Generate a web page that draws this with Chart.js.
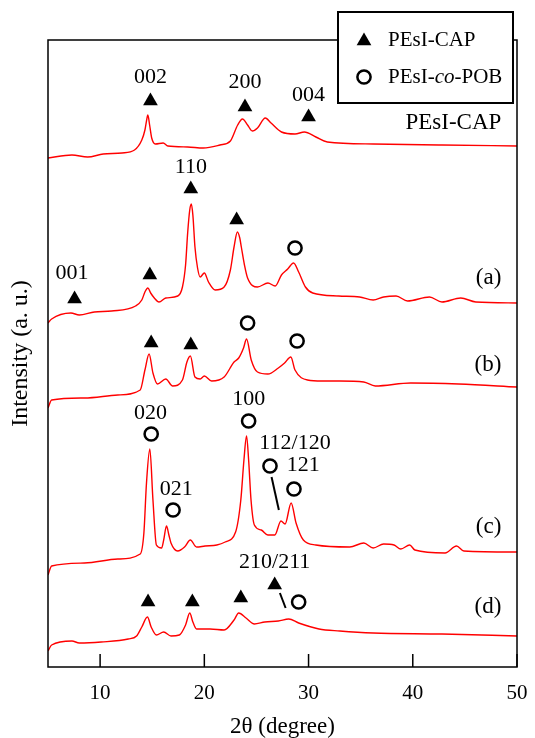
<!DOCTYPE html>
<html><head><meta charset="utf-8">
<script src="https://cdn.jsdelivr.net/npm/chart.js@4.4.1/dist/chart.umd.min.js"></script>
<style>html,body{margin:0;padding:0;background:#fff}#wrap{width:535px;height:738px}</style>
</head><body><div id="wrap"><canvas id="c" width="535" height="738"></canvas></div>
<script>
// ---- XRD patterns (2θ in degree, intensity in a.u. with vertical stacking offset) ----
const ttCAP = [5.0,7.3,8.8,10.3,12.1,13.3,14.0,14.3,14.45,14.58,14.75,14.95,15.3,16.05,16.5,18.4,19.9,21.5,22.5,23.2,23.66,24.15,24.6,25.1,25.85,26.4,27.4,28.7,29.6,30.7,31.8,36.2,42.8,50.0];
const yCAP  = [509,512,510,513,514,517,527,537,546,552,542,529,523,524,521,520,519,522,526,542,548,542,536,539,549,544,535,533,535,530,525,523,522,521];

const ttA = [5.0,5.35,7.2,8.0,9.45,11.1,13.4,14.0,14.3,14.58,14.85,15.2,15.65,16.3,17.45,17.9,18.2,18.4,18.6,18.75,18.9,19.1,19.35,19.6,20.0,20.4,21.05,21.9,22.5,22.85,23.17,23.4,23.55,23.85,24.15,25.1,26.1,26.8,27.4,28.0,28.56,29.05,29.7,30.4,32.9,34.9,36.2,37.2,38.4,39.5,41.6,42.8,44.6,46.05,50.0];
const yA  = [344,348,354,352,355,356,361,367,375,379,374,369,365,369,371,380,402,434,457,463,452,420,399,390,394,385,377,380,397,420,435,429,420,402,389,380,384,381,392,398,404,395,380,374,371,370,367,370,371,366,370,365,369,365,364];

const ttB = [5.0,5.35,8.5,11.7,13.85,14.3,14.7,15.07,15.5,16.3,16.96,17.9,18.33,18.66,19.1,19.6,20.0,20.7,21.9,22.85,23.3,23.76,24.05,24.5,25.1,26.1,27.1,27.7,28.3,28.7,29.9,31.3,33.0,35.3,36.4,39.8,44.4,50.0];
const yB  = [259,267,269,272,277,297,313,294,283,288,281,287,305,311,290,288,291,286,290,305,309,319,328,307,295,293,299,304,310,297,287,286,286,285,281,284,283,280];

const ttC = [5.0,5.35,8.5,11.7,13.85,14.2,14.45,14.77,15.07,15.4,15.9,16.1,16.37,16.6,16.8,17.45,18.1,18.66,19.25,20.07,21.2,22.0,23.0,23.5,23.8,24.05,24.25,24.48,24.8,25.46,26.1,26.76,27.35,27.75,28.33,28.8,29.5,30.7,33.95,35.3,36.2,37.2,38.2,38.85,39.7,40.2,43.1,44.2,44.9,50.0];
const yC  = [92,101,104,108,113,134,184,218,167,122,119,127,141,132,124,116,120,127,120,121,122,125,135,167,207,231,207,167,142,137,132,132,146,143,164,144,127,122,120,124,119,123,122,118,122,117,114,121,116,115];

const ttD = [5.0,5.35,7.3,8.0,10.1,12.7,13.5,14.0,14.54,14.9,15.4,16.1,16.8,17.6,18.2,18.6,18.9,19.25,20.55,21.9,22.85,23.3,24.0,24.8,25.8,27.1,28.1,29.05,31.0,33.0,36.2,42.8,50.0];
const yD  = [16,22,26,24,25,28,31,40,50,40,32,35,31,32,42,54,45,38,38,37,47,54,49,43,45,46,48,44,38,36,34,33,31];

// ---- axis ----
const xTicks = [10,20,30,40,50];

// ---- peak markers (▲ PEsI-CAP, ○ PEsI-co-POB) ----
const triX = [14.83,23.9,30.0, 18.7,23.1,14.77,7.55, 14.9,18.7, 26.75,14.6,18.85,23.5];
const triY = [566,560,550, 478,447,392,368, 324,322, 82,65,65,69];
const cirX = [28.7, 24.15,28.9, 14.9,24.25,26.3,28.6,17.0, 29.05];
const cirY = [419, 344,326, 233,246,201,178,157, 65];

// ---- peak index labels ----
const hklText = ['002','200','004','110','001','020','100','112/120','121','021','210/211'];
const hklX    = [14.83,23.9,30.0,18.7,7.3,14.83,24.25,28.7,29.5,17.3,26.75];
const hklY    = [590,585,572,500,394,254,268,224,202,178,105];

// ---- sample labels ----
const sampleText = ['PEsI-CAP','(a)','(b)','(c)','(d)'];
const sampleY    = [544,389,302,140,60];
const sampleX    = 48.5;

// ---- leader lines [x1,y1,x2,y2] ----
const leadX1 = [26.45,27.25], leadY1 = [190,74], leadX2 = [27.15,27.8], leadY2 = [157,59];

const pts = (xs, ys) => xs.map((v,i)=>({x:v,y:ys[i]}));
const lineDS = (xs, ys) => ({type:'line', data:pts(xs,ys), borderColor:'#ff0000', borderWidth:1.4, pointRadius:0, cubicInterpolationMode:'monotone', fill:false});

const SERIF = '"Liberation Serif","Times New Roman",serif';

const overlay = {
  id:'overlay',
  afterDatasetsDraw(chart){
    const {ctx, chartArea:a, scales:{x,y}} = chart;
    ctx.save();
    ctx.strokeStyle='#000'; ctx.lineWidth=1.5;
    ctx.strokeRect(a.left,a.top,a.right-a.left,a.bottom-a.top);
    x.ticks.forEach(t=>{const px=x.getPixelForValue(t.value); ctx.beginPath(); ctx.moveTo(px,a.bottom); ctx.lineTo(px,a.bottom-13); ctx.stroke();});
    ctx.fillStyle='#000'; ctx.textBaseline='middle';
    ctx.textAlign='center'; ctx.font='22px '+SERIF;
    hklText.forEach((s,i)=>ctx.fillText(s, x.getPixelForValue(hklX[i]), y.getPixelForValue(hklY[i])));
    ctx.textAlign='right'; ctx.font='23px '+SERIF;
    sampleText.forEach((s,i)=>ctx.fillText(s, x.getPixelForValue(sampleX), y.getPixelForValue(sampleY[i])));
    ctx.lineWidth=2;
    leadX1.forEach((v,i)=>{ctx.beginPath(); ctx.moveTo(x.getPixelForValue(v), y.getPixelForValue(leadY1[i])); ctx.lineTo(x.getPixelForValue(leadX2[i]), y.getPixelForValue(leadY2[i])); ctx.stroke();});
    // legend box
    const L=338,T=12,W=175,H=91;
    ctx.fillStyle='#fff'; ctx.fillRect(L,T,W,H);
    ctx.lineWidth=2; ctx.strokeStyle='#000'; ctx.strokeRect(L,T,W,H);
    ctx.fillStyle='#000';
    const mx=364, r=8.5;
    ctx.beginPath(); ctx.moveTo(mx,41-r); ctx.lineTo(mx+r*0.866,41+r*0.5); ctx.lineTo(mx-r*0.866,41+r*0.5); ctx.closePath(); ctx.fill();
    ctx.beginPath(); ctx.lineWidth=2.5; ctx.arc(mx,77,6.6,0,Math.PI*2); ctx.stroke();
    ctx.textAlign='left'; ctx.font='21px '+SERIF;
    ctx.fillText('PEsI-CAP', 388, 40);
    let tx=388; const parts=[['PEsI-',false],['co',true],['-POB',false]];
    parts.forEach(([s,it])=>{ctx.font=(it?'italic ':'')+'21px '+SERIF; ctx.fillText(s,tx,77); tx+=ctx.measureText(s).width;});
    ctx.restore();
  }
};

new Chart(document.getElementById('c'), {
  type:'scatter',
  data:{datasets:[
    lineDS(ttCAP,yCAP), lineDS(ttA,yA), lineDS(ttB,yB), lineDS(ttC,yC), lineDS(ttD,yD),
    {type:'scatter', data:pts(triX,triY), pointStyle:'triangle', pointRadius:8.5, backgroundColor:'#000', borderColor:'#000', borderWidth:0},
    {type:'scatter', data:pts(cirX,cirY), pointStyle:'circle', pointRadius:6.6, backgroundColor:'rgba(0,0,0,0)', borderColor:'#000', borderWidth:2.5}
  ]},
  options:{
    responsive:false, animation:false, devicePixelRatio:1,
    layout:{padding:{left:0,right:18,top:40,bottom:0}},
    plugins:{legend:{display:false}, tooltip:{enabled:false}},
    scales:{
      x:{type:'linear', min:5, max:50,
         afterBuildTicks:s=>{s.ticks = xTicks.map(v=>({value:v}));},
         afterFit:s=>{s.height=71; s.paddingLeft=0; s.paddingRight=0;},
         grid:{display:false, drawTicks:false}, border:{display:false},
         ticks:{color:'#000', font:{family:SERIF,size:21}, padding:14, maxRotation:0},
         title:{display:true, text:'2θ (degree)', color:'#000', font:{family:SERIF,size:23,lineHeight:1}, padding:{top:0,bottom:0}}},
      y:{type:'linear', min:0, max:627,
         afterFit:s=>{s.width=48; s.paddingTop=0; s.paddingBottom=0;},
         grid:{display:false, drawTicks:false}, border:{display:false},
         ticks:{display:false},
         title:{display:true, text:'Intensity (a. u.)', color:'#000', font:{family:SERIF,size:24,lineHeight:1}, padding:{top:9,bottom:0}}}
    }
  },
  plugins:[overlay]
});
</script></body></html>
